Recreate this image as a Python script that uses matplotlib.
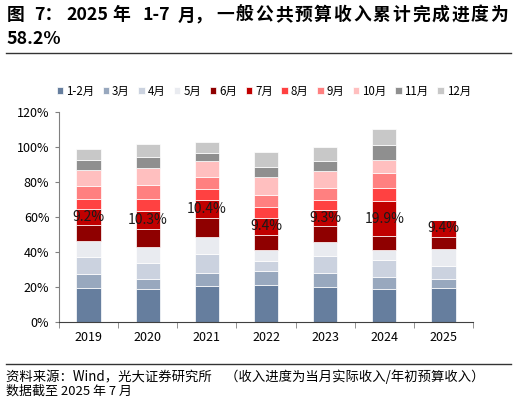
import matplotlib
matplotlib.use("Agg")
import matplotlib.pyplot as plt
import numpy as np

plt.rcParams['font.family'] = ['Noto Sans CJK SC', 'DejaVu Sans']

years = ["2019", "2020", "2021", "2022", "2023", "2024", "2025"]
months = ["1-2月", "3月", "4月", "5月", "6月", "7月", "8月", "9月", "10月", "11月", "12月"]
colors = ["#667e9e", "#98a8be", "#cbd2df", "#e9ebf0", "#8f0000", "#c00000",
          "#ff4141", "#ff8080", "#ffbfbf", "#8f8f8f", "#c8c8c8"]

# monthly increments of completion progress (%), per year
m12 = [19.7, 19.2, 20.9, 21.4, 20.3, 19.2, 19.5]
m3 = [7.8, 5.7, 7.4, 7.6, 8.0, 6.8, 5.4]
m4 = [9.7, 9.1, 10.8, 6.1, 9.7, 9.7, 7.4]
m5 = [9.1, 8.7, 9.5, 5.9, 7.6, 5.7, 9.7]
m6 = [9.3, 10.5, 10.6, 8.9, 9.1, 7.6, 6.8]
m7 = [9.2, 10.3, 10.4, 9.4, 9.3, 19.9, 9.4]
m8 = [5.7, 6.8, 6.3, 6.3, 5.7, 7.4, 0]
m9 = [7.4, 7.8, 7.0, 7.0, 6.8, 9.0, 0]
m10 = [9.0, 9.9, 9.1, 10.1, 9.7, 7.0, 0]
m11 = [5.8, 6.1, 4.7, 5.9, 5.7, 8.7, 0]
m12b = [6.1, 7.6, 5.9, 8.5, 8.0, 9.0, 0]
series = [m12, m3, m4, m5, m6, m7, m8, m9, m10, m11, m12b]

title_tokens = ["图", "7：", "2025", "年", "1-7", "月，", "一", "般", "公", "共", "预", "算",
                "收", "入", "累", "计", "完", "成", "进", "度", "为"]

W, H = 516, 403
fig = plt.figure(figsize=(W / 100, H / 100), dpi=100)
ax = fig.add_axes([0.1143, 0.2003, 0.8024, 0.5225])

x = np.arange(len(years))
bottom = np.zeros(len(years))
for vals, c, lab in zip(series, colors, months):
    v = np.array(vals)
    ax.bar(x, v, 0.41, bottom=bottom, color=c, edgecolor="white", linewidth=0.5, label=lab)
    if lab == "7月":
        for xi, b, vi in zip(x, bottom, v):
            ax.text(xi, b + vi / 2, f"{vi:.1f}%", ha="center", va="center",
                    fontsize=10, color="#1a1a1a")
    bottom += v

ax.set_xlim(-0.5, len(years) - 0.5)
ax.set_ylim(0, 120)
ax.set_yticks(np.arange(0, 121, 20))
ax.set_yticklabels([f"{t}%" for t in range(0, 121, 20)])
ax.set_xticks(x)
ax.set_xticklabels(years)
ax.set_xticks(np.arange(-0.5, len(years), 1), minor=True)
ax.tick_params(axis="x", which="major", length=0, pad=6, labelsize=9, colors="#000000")
ax.tick_params(axis="x", which="minor", length=4, color="#808080", direction="out")
ax.tick_params(axis="y", length=3, color="#808080", labelsize=9, pad=4)
for s in ["top", "right"]:
    ax.spines[s].set_visible(False)
ax.spines["left"].set_color("#808080")
ax.spines["bottom"].set_color("#404040")

fig.legend(loc="center", bbox_to_anchor=(0.511, 0.773), ncol=11, frameon=False,
           fontsize=8.3, handlelength=0.55, handleheight=0.55, handletextpad=0.25,
           columnspacing=0.75, borderpad=0)

# title, spread across the full width like the reference
starts = [7, 34, 66, 112, 142, 178]
pitch = (510 - 216) / 15.0
starts += [216 + i * pitch for i in range(15)]
for tok, sx in zip(title_tokens, starts):
    fig.text(sx / W, 1 - 15 / H, tok, fontsize=12.8, fontweight="bold", ha="left", va="center")
fig.text(6 / W, 1 - 39 / H, "58.2%", fontsize=12.8, fontweight="bold", ha="left", va="center")
fig.add_artist(plt.Line2D([6 / W, 511 / W], [1 - 52.5 / H, 1 - 52.5 / H], color="#333333",
                          linewidth=1.0, transform=fig.transFigure))
fig.add_artist(plt.Line2D([6 / W, 511 / W], [1 - 364 / H, 1 - 364 / H], color="#333333",
                          linewidth=1.0, transform=fig.transFigure))
fig.text(6 / W, 1 - 377 / H, "资料来源：Wind，光大证券研究所　（收入进度为当月实际收入/年初预算收入）",
         fontsize=9.6, ha="left", va="center")
fig.text(6 / W, 1 - 391 / H, "数据截至 2025 年 7 月", fontsize=9.4, ha="left", va="center")

fig.savefig("out.png", dpi=100)
